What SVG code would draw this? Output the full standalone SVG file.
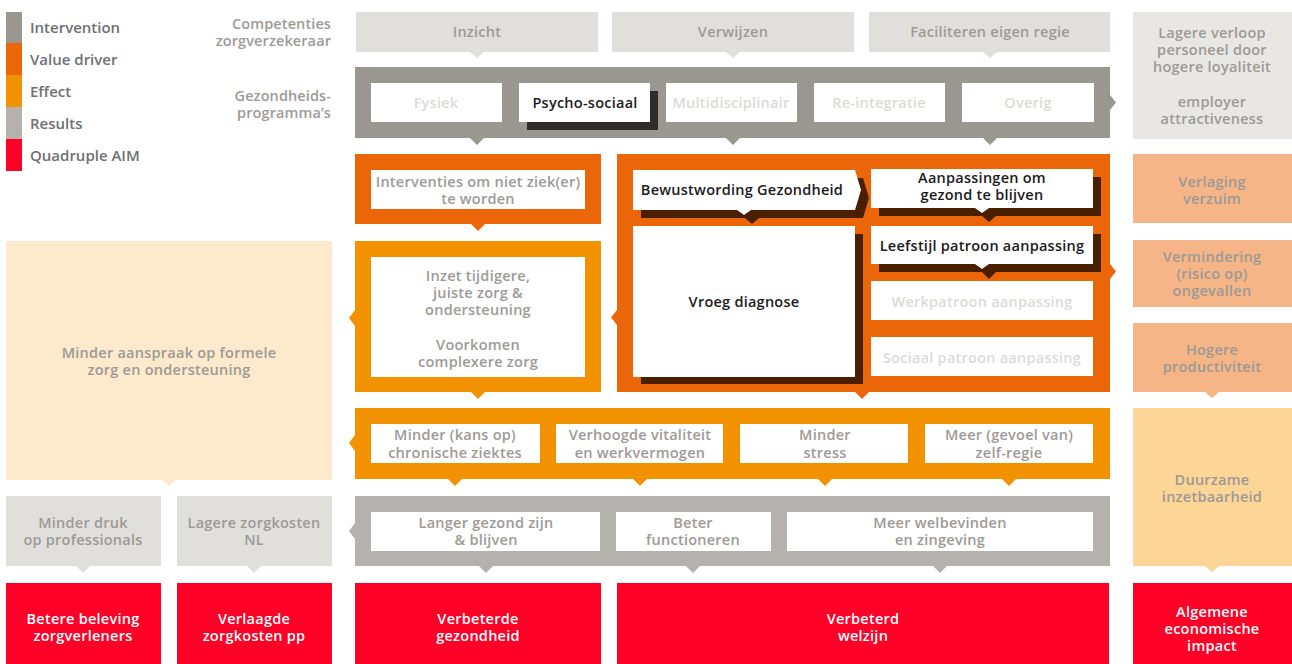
<svg xmlns="http://www.w3.org/2000/svg" width="1292" height="664" viewBox="0 0 1292 664">
  <style>
    text { font-family: "Open Sans", "Noto Sans", "Liberation Sans", sans-serif; font-size: 14.5px; font-weight: 600; text-anchor: middle; letter-spacing: 0.25px; }
    .leg { text-anchor: start; fill: #707070; font-size: 15px; letter-spacing: 0; }
    .side { text-anchor: end; fill: #9d9a96; font-size: 14.5px; letter-spacing: 0.1px; }
    .g { fill: #9d9a96; }
    .off { fill: #dcdbd8; }
    .dk { fill: #1b1b1b; }
    .wt { fill: #ffffff; }
    .c-int { fill: #9a9690; }
    .c-vd { fill: #eb6608; }
    .c-ef { fill: #f39200; }
    .c-res { fill: #b5b1ad; }
    .c-aim { fill: #ff0026; }
    .c-pale { fill: #e0dfdb; }
    .c-pale2 { fill: #e8e7e3; }
    .c-peach { fill: #fde9cb; }
    .c-salmon { fill: #f5b586; }
    .c-sand { fill: #fcd597; }
    .box { fill: #ffffff; }
    .sh-dark { fill: #2f2c29; }
    .sh-brown { fill: #4a1f00; }
  </style>

  <!-- legend -->
  <g id="legend">
    <rect x="6" y="12" width="16" height="32" class="c-int"/>
    <rect x="6" y="43" width="16" height="32" class="c-vd"/>
    <rect x="6" y="75" width="16" height="32" class="c-ef"/>
    <rect x="6" y="107" width="16" height="32" class="c-res"/>
    <rect x="6" y="139" width="16" height="32" class="c-aim"/>
    <text class="leg" x="30" y="33">Intervention</text>
    <text class="leg" x="30" y="65">Value driver</text>
    <text class="leg" x="30" y="97">Effect</text>
    <text class="leg" x="30" y="129">Results</text>
    <text class="leg" x="30" y="161">Quadruple AIM</text>
  </g>

  <g id="row-labels">
    <text class="side" x="331" y="29">Competenties</text>
    <text class="side" x="331" y="46">zorgverzekeraar</text>
    <text class="side" x="331" y="101">Gezondheids-</text>
    <text class="side" x="331" y="118">programma’s</text>
  </g>

  <!-- connectors: pointers between rows -->
  <g id="connectors">
    <!-- competencies down -->
    <polygon class="c-pale" points="470,52 484,52 477,58"/>
    <polygon class="c-pale" points="726,52 740,52 733,58"/>
    <polygon class="c-pale" points="983,52 997,52 990,58"/>
    <!-- intervention band -->
    <polygon class="c-int" points="470,138 484,138 477,145"/>
    <polygon class="c-int" points="726,138 740,138 733,145"/>
    <polygon class="c-int" points="983,138 997,138 990,145"/>
    <polygon class="c-int" points="1110,95 1116,102.5 1110,110"/>
    <!-- value drivers -->
    <polygon class="c-vd" points="471,224 485,224 478,231"/>
    <polygon class="c-vd" points="855,392 869,392 862,399"/>
    <polygon class="c-vd" points="617,310 611,317.5 617,325"/>
    <polygon class="c-vd" points="1110,264 1116,271.5 1110,279"/>
    <!-- effect box -->
    <polygon class="c-ef" points="471,392 485,392 478,399"/>
    <polygon class="c-ef" points="355,310 349,318 355,326"/>
    <!-- effect band -->
    <polygon class="c-ef" points="355,435 349,443 355,451"/>
    <polygon class="c-ef" points="448,479 462,479 455,486"/>
    <polygon class="c-ef" points="633,479 647,479 640,486"/>
    <polygon class="c-ef" points="818,479 832,479 825,486"/>
    <polygon class="c-ef" points="1002,479 1016,479 1009,486"/>
    <!-- results band -->
    <polygon class="c-res" points="355,523 349,531 355,539"/>
    <polygon class="c-res" points="479,566 493,566 486,573"/>
    <polygon class="c-res" points="686,566 700,566 693,573"/>
    <polygon class="c-res" points="933,566 947,566 940,573"/>
    <!-- left column -->
    <polygon class="c-peach" points="162,480 176,480 169,486"/>
    <polygon class="c-pale" points="76,566 90,566 83,573"/>
    <polygon class="c-pale" points="247,566 261,566 254,573"/>
    <!-- right column -->
    <polygon class="c-salmon" points="1205,392 1219,392 1212,398"/>
    <polygon class="c-sand" points="1205,566 1219,566 1212,572"/>
  </g>

  <!-- competencies of the insurer -->
  <g id="inzicht">
    <rect x="356" y="12" width="242" height="40" class="c-pale"/>
    <text class="g" x="477" y="37">Inzicht</text>
  </g>
  <g id="verwijzen">
    <rect x="612" y="12" width="242" height="40" class="c-pale"/>
    <text class="g" x="733" y="37">Verwijzen</text>
  </g>
  <g id="faciliteren">
    <rect x="869" y="12" width="241" height="40" class="c-pale"/>
    <text class="g" x="990" y="37">Faciliteren eigen regie</text>
  </g>

  <!-- health programmes -->
  <g id="programmas">
    <rect x="355" y="67" width="755" height="71" class="c-int"/>
    <rect x="371" y="83" width="131" height="39" class="box"/>
    <text class="off" x="436" y="108">Fysiek</text>
    <rect x="527" y="91" width="131" height="39" class="sh-dark"/>
    <rect x="519" y="83" width="131" height="39" class="box"/>
    <text class="dk" x="585" y="108">Psycho-sociaal</text>
    <rect x="666" y="83" width="131" height="39" class="box"/>
    <text class="off" x="731" y="108">Multidisciplinair</text>
    <rect x="814" y="83" width="131" height="39" class="box"/>
    <text class="off" x="879" y="108">Re-integratie</text>
    <rect x="962" y="83" width="132" height="39" class="box"/>
    <text class="off" x="1028" y="108">Overig</text>
  </g>

  <g id="employer">
    <rect x="1133" y="12" width="159" height="127" class="c-pale2"/>
    <text class="g" x="1212" y="38">Lagere verloop</text>
    <text class="g" x="1212" y="55">personeel door</text>
    <text class="g" x="1212" y="72">hogere loyaliteit</text>
    <text class="g" x="1212" y="107">employer</text>
    <text class="g" x="1212" y="124">attractiveness</text>
  </g>

  <!-- value drivers -->
  <g id="interventies">
    <rect x="355" y="154" width="246" height="70" class="c-vd"/>
    <rect x="371" y="170" width="214" height="39" class="box"/>
    <text class="g" x="478" y="187">Interventies om niet ziek(er)</text>
    <text class="g" x="478" y="204">te worden</text>
  </g>

  <g id="preventie">
    <rect x="617" y="154" width="493" height="238" class="c-vd"/>
    <!-- Bewustwording -->
    <polygon class="sh-brown" points="641,178 863,178 869,198 863,218 759,218 752,224 745,218 641,218"/>
    <polygon class="box" points="633,170 855,170 861,190 855,210 751,210 744,215 737,210 633,210"/>
    <text class="dk" x="742" y="195">Bewustwording Gezondheid</text>
    <!-- Vroeg diagnose -->
    <rect x="641" y="234" width="222" height="150" class="sh-brown"/>
    <rect x="633" y="226" width="222" height="151" class="box"/>
    <text class="dk" x="744" y="307">Vroeg diagnose</text>
    <!-- Aanpassingen -->
    <polygon class="sh-brown" points="879,177 1101,177 1101,216 996,216 989,222 982,216 879,216"/>
    <polygon class="box" points="871,169 1093,169 1093,208 989,208 982,213 975,208 871,208"/>
    <text class="dk" x="982" y="183">Aanpassingen om</text>
    <text class="dk" x="982" y="200">gezond te blijven</text>
    <!-- Leefstijl -->
    <polygon class="sh-brown" points="879,234 1101,234 1101,272 996,272 989,279 982,272 879,272"/>
    <polygon class="box" points="871,226 1093,226 1093,264 989,264 982,269 975,264 871,264"/>
    <text class="dk" x="982" y="251">Leefstijl patroon aanpassing</text>
    <!-- Werk / Sociaal -->
    <rect x="871" y="281" width="222" height="39" class="box"/>
    <text class="off" x="982" y="307">Werkpatroon aanpassing</text>
    <rect x="871" y="337" width="222" height="39" class="box"/>
    <text class="off" x="982" y="363">Sociaal patroon aanpassing</text>
  </g>

  <g id="verzuim">
    <rect x="1133" y="154" width="159" height="69" class="c-salmon"/>
    <text class="g" x="1212" y="187">Verlaging</text>
    <text class="g" x="1212" y="204">verzuim</text>
  </g>
  <g id="ongevallen">
    <rect x="1133" y="240" width="159" height="67" class="c-salmon"/>
    <text class="g" x="1212" y="262">Vermindering</text>
    <text class="g" x="1212" y="279">(risico op)</text>
    <text class="g" x="1212" y="296">ongevallen</text>
  </g>
  <g id="productiviteit">
    <rect x="1133" y="323" width="159" height="69" class="c-salmon"/>
    <text class="g" x="1212" y="355">Hogere</text>
    <text class="g" x="1212" y="372">productiviteit</text>
  </g>

  <!-- effects -->
  <g id="tijdige-zorg">
    <rect x="355" y="241" width="246" height="151" class="c-ef"/>
    <rect x="371" y="257" width="214" height="120" class="box"/>
    <text class="g" x="478" y="281">Inzet tijdigere,</text>
    <text class="g" x="478" y="298">juiste zorg &amp;</text>
    <text class="g" x="478" y="315">ondersteuning</text>
    <text class="g" x="478" y="350">Voorkomen</text>
    <text class="g" x="478" y="367">complexere zorg</text>
  </g>

  <g id="formele-zorg">
    <rect x="6" y="241" width="326" height="239" class="c-peach"/>
    <text class="g" x="169" y="358">Minder aanspraak op formele</text>
    <text class="g" x="169" y="375">zorg en ondersteuning</text>
  </g>

  <g id="effecten">
    <rect x="355" y="408" width="755" height="71" class="c-ef"/>
    <rect x="371" y="424" width="169" height="39" class="box"/>
    <text class="g" x="455" y="440">Minder (kans op)</text>
    <text class="g" x="455" y="458">chronische ziektes</text>
    <rect x="556" y="424" width="167" height="39" class="box"/>
    <text class="g" x="640" y="440">Verhoogde vitaliteit</text>
    <text class="g" x="640" y="458">en werkvermogen</text>
    <rect x="740" y="424" width="168" height="39" class="box"/>
    <text class="g" x="825" y="440">Minder</text>
    <text class="g" x="825" y="458">stress</text>
    <rect x="925" y="424" width="168" height="39" class="box"/>
    <text class="g" x="1009" y="440">Meer (gevoel van)</text>
    <text class="g" x="1009" y="458">zelf-regie</text>
  </g>

  <g id="inzetbaarheid">
    <rect x="1133" y="408" width="159" height="158" class="c-sand"/>
    <text class="g" x="1212" y="485">Duurzame</text>
    <text class="g" x="1212" y="502">inzetbaarheid</text>
  </g>

  <!-- results -->
  <g id="druk">
    <rect x="6" y="496" width="155" height="70" class="c-pale"/>
    <text class="g" x="83" y="528">Minder druk</text>
    <text class="g" x="83" y="545">op professionals</text>
  </g>
  <g id="zorgkosten">
    <rect x="177" y="496" width="155" height="70" class="c-pale"/>
    <text class="g" x="254" y="528">Lagere zorgkosten</text>
    <text class="g" x="254" y="545">NL</text>
  </g>

  <g id="resultaten">
    <rect x="355" y="496" width="755" height="70" class="c-res"/>
    <rect x="371" y="512" width="229" height="39" class="box"/>
    <text class="g" x="486" y="528">Langer gezond zijn</text>
    <text class="g" x="486" y="545">&amp; blijven</text>
    <rect x="616" y="512" width="155" height="39" class="box"/>
    <text class="g" x="693" y="528">Beter</text>
    <text class="g" x="693" y="545">functioneren</text>
    <rect x="787" y="512" width="306" height="39" class="box"/>
    <text class="g" x="940" y="528">Meer welbevinden</text>
    <text class="g" x="940" y="545">en zingeving</text>
  </g>

  <!-- quadruple aim -->
  <g id="beleving">
    <rect x="6" y="583" width="155" height="81" class="c-aim"/>
    <text class="wt" x="83" y="624">Betere beleving</text>
    <text class="wt" x="83" y="641">zorgverleners</text>
  </g>
  <g id="zorgkosten-pp">
    <rect x="177" y="583" width="155" height="81" class="c-aim"/>
    <text class="wt" x="254" y="624">Verlaagde</text>
    <text class="wt" x="254" y="641">zorgkosten pp</text>
  </g>
  <g id="gezondheid">
    <rect x="355" y="583" width="246" height="81" class="c-aim"/>
    <text class="wt" x="478" y="624">Verbeterde</text>
    <text class="wt" x="478" y="641">gezondheid</text>
  </g>
  <g id="welzijn">
    <rect x="617" y="583" width="492" height="81" class="c-aim"/>
    <text class="wt" x="863" y="624">Verbeterd</text>
    <text class="wt" x="863" y="641">welzijn</text>
  </g>
  <g id="economie">
    <rect x="1133" y="583" width="159" height="81" class="c-aim"/>
    <text class="wt" x="1212" y="617">Algemene</text>
    <text class="wt" x="1212" y="634">economische</text>
    <text class="wt" x="1212" y="651">impact</text>
  </g>
</svg>
